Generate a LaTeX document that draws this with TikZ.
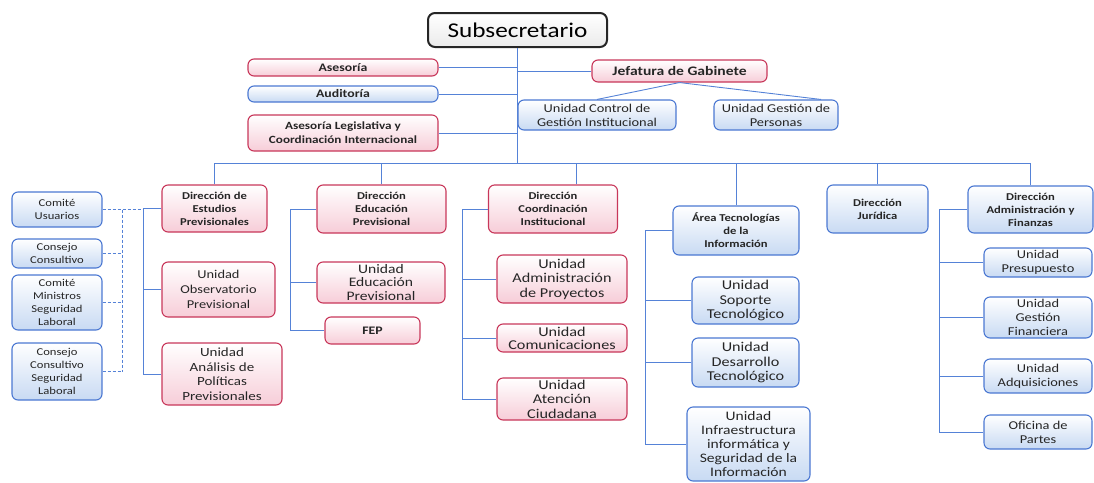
\documentclass[tikz,border=0pt]{standalone}
\usepackage{fontspec}
\setmainfont{Carlito}[FakeStretch=1.2]
\usepackage{tikz}
\definecolor{pinkline}{RGB}{200,55,90}
\definecolor{pinkfill}{RGB}{247,205,216}
\definecolor{blueline}{RGB}{75,120,210}
\definecolor{bluefill}{RGB}{200,218,243}
\definecolor{wireblue}{RGB}{85,130,215}

\begin{document}
\begin{tikzpicture}[x=1pt, y=-1pt,
    orgbox/.style={rounded corners=6pt, line width=1.1pt, align=center, inner sep=1pt, text=black!85},
    pinkbox/.style={orgbox, draw=pinkline, top color=white, bottom color=pinkfill},
    bluebox/.style={orgbox, draw=blueline, top color=white, bottom color=bluefill},
    headbox/.style={rounded corners=7pt, line width=2pt, draw=black!85, top color=white, bottom color=black!8, font=\fontsize{21}{24}\selectfont},
    boxsize/.style 2 args={minimum width=#1pt, minimum height=#2pt},
    dirfont/.style={font=\fontsize{10.5}{13}\selectfont\bfseries},
    unifont/.style={font=\fontsize{12}{14}\selectfont},
    bigfont/.style={font=\fontsize{13.5}{14.5}\selectfont},
    smallfont/.style={font=\fontsize{10.5}{13}\selectfont},
    wire/.style={draw=wireblue, line width=0.9pt},
    dashwire/.style={wire, dash pattern=on 3pt off 2pt}
    ]
    \useasboundingbox (0,0) rectangle (1094,482);

        %Nodes
        \node[headbox, boxsize={179}{34}]
            (sub)  at (517.5,30)   {Subsecretario};
        \node[pinkbox, dirfont, font=\fontsize{11.5}{13}\selectfont\bfseries, boxsize={190}{17}]
            (ase)  at (343,67.5)   {Asesoría};
        \node[bluebox, dirfont, font=\fontsize{11.5}{13}\selectfont\bfseries, boxsize={190}{16}]
            (aud)  at (343,94)     {Auditoría};
        \node[pinkbox, dirfont, font=\fontsize{11}{14}\selectfont\bfseries, boxsize={190}{36}]
            (asl)  at (343,133)    {Asesoría Legislativa y\\Coordinación Internacional};
        \node[pinkbox, dirfont, font=\fontsize{13}{15}\selectfont\bfseries, boxsize={175}{22}]
            (jef)  at (679.5,71)   {Jefatura de Gabinete};
        \node[bluebox, unifont, boxsize={158}{30}]
            (ucg)  at (597,115)    {Unidad Control de\\Gestión Institucional};
        \node[bluebox, unifont, boxsize={124}{30}]
            (ugp)  at (776,115)    {Unidad Gestión de\\Personas};

        \node[bluebox, smallfont, boxsize={90}{35}]
            (cu)   at (57,209.5)   {Comité\\Usuarios};
        \node[bluebox, smallfont, boxsize={90}{29}]
            (cc)   at (57,253.5)   {Consejo\\Consultivo};
        \node[bluebox, smallfont, boxsize={90}{55}]
            (cm)   at (57,302.5)   {Comité\\Ministros\\Seguridad\\Laboral};
        \node[bluebox, smallfont, boxsize={90}{57}]
            (ccs)  at (57,371.5)   {Consejo\\Consultivo\\Seguridad\\Laboral};

        \node[pinkbox, dirfont, boxsize={105}{47}]
            (des)  at (214.5,208.5) {Dirección de\\Estudios\\Previsionales};
        \node[pinkbox, unifont, font=\fontsize{12}{15}\selectfont, boxsize={113}{55}]
            (uop)  at (218.5,289.5) {Unidad\\Observatorio\\Previsional};
        \node[pinkbox, unifont, font=\fontsize{12.5}{14.5}\selectfont, boxsize={120}{62}]
            (uap)  at (222,374)     {Unidad\\Análisis de\\Políticas\\Previsionales};

        \node[pinkbox, dirfont, boxsize={129}{48}]
            (dep)  at (381.5,209)   {Dirección\\Educación\\Previsional};
        \node[pinkbox, unifont, font=\fontsize{13}{13.5}\selectfont, boxsize={128}{41}]
            (uep)  at (381,282.5)   {Unidad\\Educación\\Previsional};
        \node[pinkbox, dirfont, font=\fontsize{11.5}{13}\selectfont\bfseries, boxsize={95}{27}]
            (fep)  at (372.5,330.5) {FEP};

        \node[pinkbox, dirfont, boxsize={129}{48}]
            (dco)  at (553,209)     {Dirección\\Coordinación\\Institucional};
        \node[pinkbox, bigfont, boxsize={130}{48}]
            (uadp) at (562,279)     {Unidad\\Administración\\de Proyectos};
        \node[pinkbox, bigfont, font=\fontsize{13.5}{13}\selectfont, boxsize={130}{28}]
            (ucom) at (562,338)     {Unidad\\Comunicaciones};
        \node[pinkbox, bigfont, boxsize={130}{42}]
            (uac)  at (562,399)     {Unidad\\Atención\\Ciudadana};

        \node[bluebox, dirfont, boxsize={126}{49}]
            (ati)  at (736,230.5)   {Área Tecnologías\\de la\\Información};
        \node[bluebox, bigfont, boxsize={107}{47}]
            (ust)  at (745.5,300.5) {Unidad\\Soporte\\Tecnológico};
        \node[bluebox, bigfont, boxsize={107}{49}]
            (udt)  at (745.5,362.5) {Unidad\\Desarrollo\\Tecnológico};
        \node[bluebox, bigfont, font=\fontsize{13}{14.2}\selectfont, boxsize={123}{74}]
            (uis)  at (748.5,444)   {Unidad\\Infraestructura\\informática y\\Seguridad de la\\Información};

        \node[bluebox, dirfont, boxsize={101}{48}]
            (dju)  at (877.5,209)   {Dirección\\Jurídica};
        \node[bluebox, dirfont, boxsize={125}{47}]
            (daf)  at (1030.5,209.5) {Dirección\\Administración y\\Finanzas};
        \node[bluebox, unifont, boxsize={108}{29}]
            (upr)  at (1038,262.5)  {Unidad\\Presupuesto};
        \node[bluebox, unifont, boxsize={108}{41}]
            (ugf)  at (1038,317.5)  {Unidad\\Gestión\\Financiera};
        \node[bluebox, unifont, boxsize={108}{34}]
            (uad)  at (1038,376)    {Unidad\\Adquisiciones};
        \node[bluebox, unifont, boxsize={108}{34}]
            (ofp)  at (1038,432)    {Oficina de\\Partes};

        %Lines
        \coordinate (bus)  at (516,163);
        \coordinate (tCom) at (122,0);
        \coordinate (tEst) at (143,0);
        \coordinate (tEdu) at (290,0);
        \coordinate (tCoo) at (462,0);
        \coordinate (tTec) at (645,0);
        \coordinate (tFin) at (939,0);

        \draw[wire] (sub.south) -- (sub.south |- bus);
        \draw[wire] (ase.east) -- (ase.east -| sub.south);
        \draw[wire] (aud.east) -- (aud.east -| sub.south);
        \draw[wire] (asl.east) -- (asl.east -| sub.south);
        \draw[wire] (jef.west) -- (jef.west -| sub.south);
        \draw[wire] (jef.south) -- (ucg.north);
        \draw[wire] (jef.south) -- ([xshift=45pt]ugp.north);

        \draw[wire] (des.north |- bus) -- (daf.north |- bus);
        \draw[wire] (des.north) -- (des.north |- bus);
        \draw[wire] (dep.north) -- (dep.north |- bus);
        \draw[wire] ([xshift=23pt]dco.north) -- ([xshift=23pt]dco.north |- bus);
        \draw[wire] (ati.north) -- (ati.north |- bus);
        \draw[wire] (dju.north) -- (dju.north |- bus);
        \draw[wire] (daf.north) -- (daf.north |- bus);

        \draw[dashwire] (cu.east) -- (cu.east -| tEst);
        \draw[dashwire] (cu.east -| tCom) -- (ccs.east -| tCom);
        \draw[dashwire] (cc.east) -- (cc.east -| tCom);
        \draw[dashwire] (cm.east) -- (cm.east -| tCom);
        \draw[dashwire] (ccs.east) -- (ccs.east -| tCom);

        \draw[wire] (des.west) -- (des.west -| tEst) |- (uap.west);
        \draw[wire] (uop.west) -- (uop.west -| tEst);

        \draw[wire] (dep.west) -- (dep.west -| tEdu) |- (fep.west);
        \draw[wire] (uep.west) -- (uep.west -| tEdu);

        \draw[wire] (dco.west) -- (dco.west -| tCoo) |- (uac.west);
        \draw[wire] (uadp.west) -- (uadp.west -| tCoo);
        \draw[wire] (ucom.west) -- (ucom.west -| tCoo);

        \draw[wire] (ati.west) -- (ati.west -| tTec) |- (uis.west);
        \draw[wire] (ust.west) -- (ust.west -| tTec);
        \draw[wire] (udt.west) -- (udt.west -| tTec);

        \draw[wire] (daf.west) -- (daf.west -| tFin) |- (ofp.west);
        \draw[wire] (upr.west) -- (upr.west -| tFin);
        \draw[wire] (ugf.west) -- (ugf.west -| tFin);
        \draw[wire] (uad.west) -- (uad.west -| tFin);
    \end{tikzpicture}
\end{document}
